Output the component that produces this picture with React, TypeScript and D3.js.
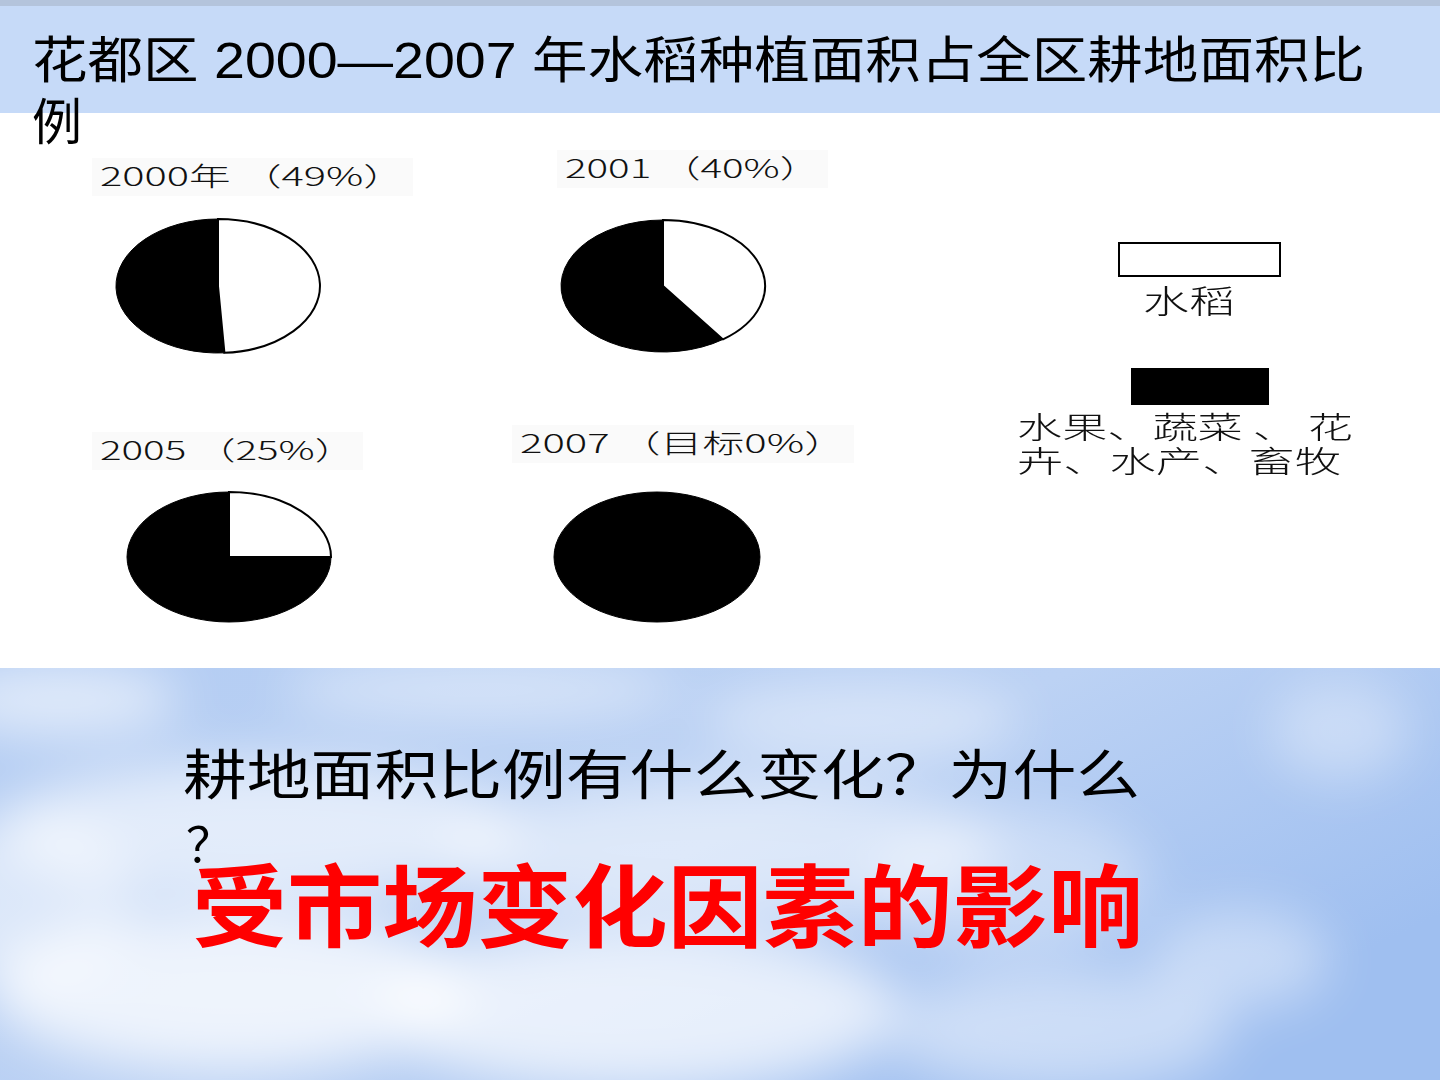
import React from "react";
import * as d3 from "d3";

const titleLine1 = "花都区 2000—2007 年水稻种植面积占全区耕地面积比";
const titleLine2 = "例";
const pieLabels = ["2000年 （49%）", "2001 （40%）", "2005 （25%）", "2007 （目标0%）"];
const riceShare = [49, 40, 25, 0];
const legendRice = "水稻";
const legendOtherLine1 = "水果、蔬菜 、 花";
const legendOtherLine2 = "卉、水产、畜牧";
const question = "耕地面积比例有什么变化？为什么";
const questionTail = "？";
const answer = "受市场变化因素的影响";

// layout (positions, not data)
const pieLayout = [
  { cx: 218, cy: 286, rx: 102, ry: 67, lx: 100, ly: 186, lw: 305 },
  { cx: 663, cy: 286, rx: 102, ry: 66, lx: 565, ly: 178, lw: 255 },
  { cx: 229, cy: 557, rx: 102, ry: 65, lx: 100, ly: 460, lw: 255 },
  { cx: 657, cy: 557, rx: 103, ry: 65, lx: 520, ly: 453, lw: 326 },
];

const clouds = [
  { x: 60, y: 700, rx: 120, ry: 35, o: 0.6 },
  { x: 480, y: 690, rx: 200, ry: 30, o: 0.45 },
  { x: 860, y: 720, rx: 160, ry: 40, o: 0.4 },
  { x: 260, y: 830, rx: 260, ry: 70, o: 0.6 },
  { x: 720, y: 850, rx: 280, ry: 70, o: 0.5 },
  { x: 1010, y: 880, rx: 140, ry: 70, o: 0.35 },
  { x: 230, y: 990, rx: 240, ry: 80, o: 0.75 },
  { x: 640, y: 1010, rx: 260, ry: 80, o: 0.7 },
  { x: 1060, y: 1030, rx: 170, ry: 60, o: 0.45 },
  { x: 1340, y: 730, rx: 70, ry: 50, o: 0.35 },
  { x: 1240, y: 960, rx: 90, ry: 50, o: 0.4 },
  { x: 30, y: 900, rx: 100, ry: 90, o: 0.5 },
];

const sans = "'Liberation Sans', 'Noto Sans CJK SC', sans-serif";
const cjk = "'Noto Sans CJK SC', sans-serif";

export default function App() {
  const pie = d3.pie<number>().sort(null).startAngle(0).endAngle(2 * Math.PI);
  const arc = d3.arc<d3.PieArcDatum<number>>().innerRadius(0).outerRadius(1);

  return (
    <svg
      width={1440}
      height={1080}
      style={{ position: "fixed", left: 0, top: 0, display: "block" }}
      xmlns="http://www.w3.org/2000/svg"
    >
      <defs>
        <linearGradient id="sky" x1="0" y1="0" x2="1" y2="0.6">
          <stop offset="0" stopColor="#b4cdf3" />
          <stop offset="0.55" stopColor="#bcd2f4" />
          <stop offset="1" stopColor="#9fbff0" />
        </linearGradient>
        <filter id="blur" x="-50%" y="-50%" width="200%" height="200%">
          <feGaussianBlur stdDeviation="26" />
        </filter>
        <clipPath id="skyclip">
          <rect x={0} y={668} width={1440} height={412} />
        </clipPath>
      </defs>

      <rect x={0} y={0} width={1440} height={1080} fill="#ffffff" />

      {/* top band */}
      <rect x={0} y={0} width={1440} height={113} fill="#c6daf8" />
      <rect x={0} y={0} width={1440} height={6} fill="#b4c4dc" />

      {/* sky */}
      <g clipPath="url(#skyclip)">
        <rect x={0} y={668} width={1440} height={412} fill="url(#sky)" />
        <g filter="url(#blur)">
          {clouds.map((c, i) => (
            <ellipse key={i} cx={c.x} cy={c.y} rx={c.rx} ry={c.ry} fill="#ffffff" opacity={c.o} />
          ))}
        </g>
      </g>

      {/* title */}
      <text x={32} y={78} fontFamily={sans} fontSize={50} fill="#000" textLength={1333} lengthAdjust="spacingAndGlyphs">
        {titleLine1}
      </text>
      <text x={32} y={140} fontFamily={sans} fontSize={50} fill="#000" textLength={50} lengthAdjust="spacingAndGlyphs">
        {titleLine2}
      </text>

      {/* pies */}
      {riceShare.map((share, i) => {
        const L = pieLayout[i];
        const arcs = pie([share, 100 - share]);
        return (
          <g key={i}>
            <rect x={L.lx - 8} y={L.ly - 28} width={L.lw + 16} height={38} fill="#fafafa" />
            <text
              x={L.lx}
              y={L.ly}
              fontFamily={cjk}
              fontWeight={300}
              fontSize={26}
              fill="#111"
              textLength={L.lw}
              lengthAdjust="spacingAndGlyphs"
            >
              {pieLabels[i]}
            </text>
            <g transform={`translate(${L.cx},${L.cy}) scale(${L.rx},${L.ry})`}>
              {arcs[1].endAngle - arcs[1].startAngle > 0 && (
                <path d={arc(arcs[1]) || ""} fill="#000" stroke="#000" strokeWidth={1} vectorEffect="non-scaling-stroke" />
              )}
              {arcs[0].endAngle - arcs[0].startAngle > 0 && (
                <path d={arc(arcs[0]) || ""} fill="#fff" stroke="#000" strokeWidth={2} vectorEffect="non-scaling-stroke" />
              )}
            </g>
          </g>
        );
      })}

      {/* legend */}
      <rect x={1119} y={243} width={161} height={33} fill="#fff" stroke="#000" strokeWidth={2} />
      <text x={1143} y={313} fontFamily={cjk} fontWeight={300} fontSize={32} fill="#111" textLength={92} lengthAdjust="spacingAndGlyphs">
        {legendRice}
      </text>
      <rect x={1131} y={368} width={138} height={37} fill="#000" />
      <text x={1017} y={438} fontFamily={cjk} fontWeight={300} fontSize={30} fill="#111" textLength={336} lengthAdjust="spacingAndGlyphs">
        {legendOtherLine1}
      </text>
      <text x={1017} y={472} fontFamily={cjk} fontWeight={300} fontSize={30} fill="#111" textLength={324} lengthAdjust="spacingAndGlyphs">
        {legendOtherLine2}
      </text>

      {/* question */}
      <text x={183} y={795} fontFamily={sans} fontSize={54} fill="#000" textLength={957} lengthAdjust="spacingAndGlyphs">
        {question}
      </text>
      <text x={186} y={862} fontFamily={sans} fontSize={48} fill="#000">
        {questionTail}
      </text>

      {/* answer */}
      <text
        x={192}
        y={940}
        fontFamily={cjk}
        fontWeight={700}
        fontSize={90}
        fill="#ff0000"
        textLength={951}
        lengthAdjust="spacingAndGlyphs"
      >
        {answer}
      </text>
    </svg>
  );
}
